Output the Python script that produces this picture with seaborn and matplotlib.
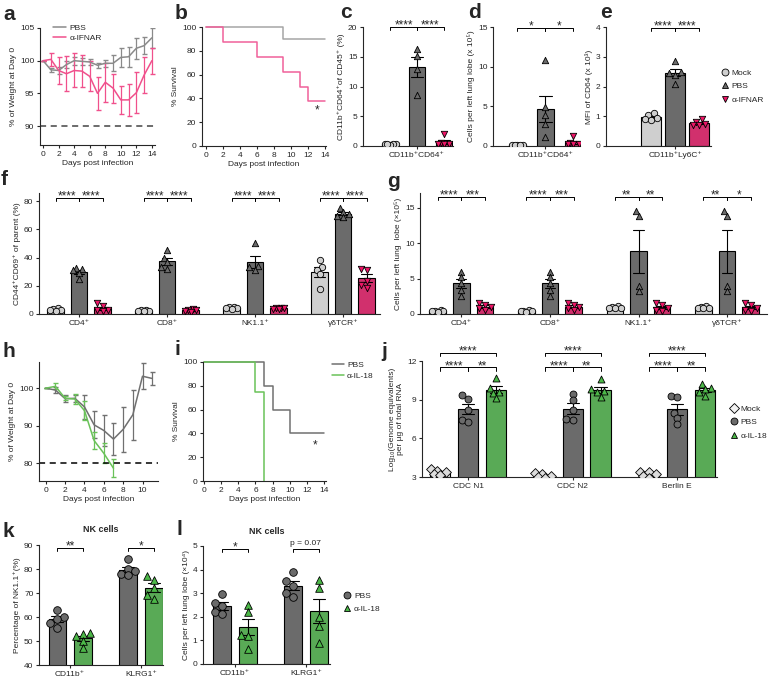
import warnings

import pandas as pd
import matplotlib
matplotlib.use("Agg")
import matplotlib.pyplot as plt
from matplotlib.lines import Line2D
import seaborn as sns

warnings.filterwarnings("ignore")

# ---------------- data ----------------
# a: weight curves, anti-IFNAR (mean, SEM by day)
a_days = list(range(15))
a_pbs_mean = [100.0, 98.6, 98.5, 99.4, 100.0, 99.9, 99.8, 99.3, 99.6, 99.6, 100.5, 100.6, 101.9, 102.3, 103.5]
a_pbs_sem = [0, 0.3, 0.5, 0.5, 0.6, 0.5, 0.5, 0.4, 0.5, 1.2, 1.5, 1.5, 1.6, 1.3, 1.5]
a_ifnar_mean = [100.0, 100.2, 98.5, 98.0, 98.5, 98.4, 97.6, 95.0, 96.7, 95.8, 94.0, 94.0, 95.1, 97.8, 100.0]
a_ifnar_sem = [0, 1.0, 2.0, 2.7, 2.6, 2.4, 2.3, 2.5, 3.0, 2.2, 2.2, 2.5, 3.1, 2.8, 2.0]

# b: survival, anti-IFNAR
b_pbs_days = [0, 9, 14]
b_pbs_surv = [100, 90, 90]
b_ifnar_days = [0, 2, 6, 9, 11, 12, 14]
b_ifnar_surv = [100, 87.5, 75, 62.5, 50, 37.5, 37.5]

# c, d, e: single population, three groups
c_mock = [0.3, 0.3, 0.35, 0.25, 0.3]
c_pbs = [16.3, 15.2, 12.9, 8.6]
c_ifnar = [2.1, 0.45, 0.4, 0.35, 0.35]
d_mock = [0.1, 0.1, 0.1, 0.1, 0.1]
d_pbs = [10.8, 4.9, 3.9, 2.8, 1.1]
d_ifnar = [1.2, 0.35, 0.3, 0.3, 0.25]
e_mock = [1.1, 1.05, 0.95, 0.9, 0.88]
e_pbs = [2.85, 2.5, 2.45, 2.4, 2.1]
e_ifnar = [0.9, 0.8, 0.75, 0.72, 0.7]

# f, g: lymphocyte subsets
cells_fg = ["CD4⁺", "CD8⁺", "NK1.1⁺", "γδTCR⁺"]
f_mock = [[4.0, 3.5, 3.0, 2.5, 2.0], [2.8, 2.5, 2.2, 2.0, 1.8], [5.2, 4.8, 4.5, 4.0, 3.8], [38, 33.5, 31, 28, 18]]
f_pbs = [[32.5, 31.5, 32.0, 29.0, 24.5], [45.0, 40.0, 37.0, 33.0, 32.0], [50.0, 34.0, 33.0, 31.0], [75, 72, 70.5, 69.5, 68.5]]
f_ifnar = [[7.5, 6.0, 3.0, 2.5, 2.0], [3.5, 3.0, 2.5, 2.0, 1.5], [4.5, 4.3, 4.0, 3.8, 3.5], [32.0, 31.5, 23.5, 20.5, 18.5]]
g_mock = [[0.5, 0.45, 0.4, 0.4, 0.35], [0.5, 0.45, 0.4, 0.4, 0.35], [1.1, 1.0, 0.9, 0.85, 0.8], [1.1, 1.0, 0.9, 0.85, 0.8]]
g_pbs = [[6.0, 5.2, 4.4, 3.4, 2.6], [6.0, 5.2, 4.4, 3.4, 2.6], [14.5, 13.8, 4.0, 3.2], [14.5, 13.8, 4.0, 3.2]]
g_ifnar = [[1.5, 1.3, 1.0, 0.8, 0.6], [1.5, 1.3, 1.0, 0.8, 0.6], [1.5, 1.3, 0.9, 0.5, 0.4], [1.5, 1.3, 0.9, 0.5, 0.4]]
f_sig = [["****", "****"], ["****", "****"], ["****", "****"], ["****", "****"]]
g_sig = [["****", "***"], ["****", "***"], ["**", "**"], ["**", "*"]]

# h: weight curves, anti-IL-18
h_pbs_days = list(range(12))
h_pbs_mean = [100, 99.5, 97.2, 97.3, 95.0, 90.2, 88.7, 86.4, 89.0, 92.9, 103.2, 102.6]
h_pbs_sem = [0, 0.7, 1.0, 1.0, 3.3, 3.6, 4.2, 4.2, 6.0, 6.7, 3.4, 1.7]
h_il18_days = list(range(8))
h_il18_mean = [100, 100.5, 97.3, 97.1, 94.0, 86.0, 82.6, 78.6]
h_il18_sem = [0, 0.8, 0.5, 1.3, 2.5, 2.2, 2.7, 2.4]

# i: survival, anti-IL-18
i_pbs_days = [0, 7, 8, 10, 14]
i_pbs_surv = [100, 80, 60, 40, 40]
i_il18_days = [0, 6, 7]
i_il18_surv = [100, 75, 0]

# j: viral RNA
targets_j = ["CDC N1", "CDC N2", "Berlin E"]
j_mock = [[3.65, 3.45, 3.35, 3.2, 3.15], [3.3, 3.2, 3.1, 3.0, 2.95], [3.4, 3.35, 3.2, 3.1, 2.95]]
j_pbs = [[9.4, 9.05, 8.2, 7.45, 7.3], [9.45, 9.0, 8.2, 7.5, 7.4], [9.3, 9.2, 8.0, 7.6, 7.1]]
j_il18 = [[10.7, 9.9, 9.6, 9.5, 9.1], [10.6, 9.8, 9.7, 9.6, 9.2], [10.2, 9.9, 9.8, 9.6, 9.3]]

# k, l: NK cells
cells_kl = ["CD11b⁺", "KLRG1⁺"]
k_pbs = [[63, 60, 59, 57.5, 55.5], [84, 80, 79, 78, 77.5]]
k_il18 = [[53.5, 53, 52, 50, 47], [77, 75.5, 72, 69, 67.5]]
l_pbs = [[2.95, 2.6, 2.45, 2.2, 2.1], [3.9, 3.5, 3.3, 3.0, 2.85]]
l_il18 = [[2.5, 2.2, 1.25, 1.2, 0.65], [3.55, 3.2, 2.0, 1.6, 0.9]]

# ---------------- style ----------------
MOCK = "#cfcfcf"
PBS = "#6b6b6b"
IFNAR = "#ec1566"
IL18 = "#4cb848"

sns.set_style("ticks")
plt.rcParams["font.family"] = ["Liberation Sans", "DejaVu Sans"]
plt.rcParams.update({
    "font.size": 6, "axes.linewidth": 0.8, "axes.labelsize": 6,
    "xtick.labelsize": 6, "ytick.labelsize": 6,
    "xtick.major.width": 0.8, "ytick.major.width": 0.8,
    "xtick.major.size": 2.5, "ytick.major.size": 2.5,
    "xtick.major.pad": 1.5, "ytick.major.pad": 1.5,
    "axes.labelpad": 2,
})

W, H = 771, 681
fig = plt.figure(figsize=(W / 100, H / 100), dpi=100)


def px_axes(l, t, r, b):
    ax = fig.add_axes([l / W, 1 - b / H, (r - l) / W, (b - t) / H])
    sns.despine(ax=ax)
    return ax


def letter(x, y, s):
    fig.text(x / W, 1 - y / H, s, fontsize=15, fontweight="bold", va="baseline", ha="left")


def slot(ci, hi, nh, width=0.8):
    return ci + (hi - (nh - 1) / 2) * width / nh


def swarm_x(center, vals, half, ppx, ppy, diam):
    # small deterministic beeswarm, points kept inside the bar
    step = diam * 0.45
    cands = [0.0]
    k = 1
    while k * step <= half * ppx + 1e-9:
        cands += [-k * step, k * step]
        k += 1
    placed = []
    out = [center] * len(vals)
    for i in sorted(range(len(vals)), key=lambda j: vals[j]):
        y = vals[i] * ppy
        best, best_d = 0.0, -1.0
        for dx in cands:
            d = min([((dx - px) ** 2 + (y - py) ** 2) ** 0.5 for px, py in placed], default=1e9)
            if d >= 0.8 * diam:
                best = dx
                break
            if d > best_d:
                best, best_d = dx, d
        placed.append((best, y))
        out[i] = center + best / ppx
    return out


def bar_panel(ax, cats, groups, values, palette, markers, xlim, ylim, width=0.8, gap=0.3, size=5):
    rows = []
    for grp, vals in zip(groups, values):
        for cat, pts in zip(cats, vals):
            for v in pts:
                rows.append((cat, grp, v))
    df = pd.DataFrame(rows, columns=["cat", "grp", "val"])
    sns.barplot(data=df, x="cat", y="val", hue="grp", order=cats, hue_order=groups,
                palette=palette, errorbar="se", capsize=0.35, width=width, gap=gap,
                err_kws={"linewidth": 0.8, "color": "black"},
                edgecolor="black", linewidth=0.8, legend=False, ax=ax)
    ax.set_xlim(xlim)
    ax.set_ylim(ylim)
    ppx = ax.bbox.width / (xlim[1] - xlim[0])
    ppy = ax.bbox.height / (ylim[1] - ylim[0])
    nh = len(groups)
    half = width / nh * (1 - gap) / 2
    for hi, (grp, vals, m) in enumerate(zip(groups, values, markers)):
        xs, ys = [], []
        for ci, pts in enumerate(vals):
            xs += swarm_x(slot(ci, hi, nh, width), pts, half, ppx, ppy, size * 100 / 72)
            ys += list(pts)
        sns.scatterplot(x=xs, y=ys, marker=m, s=size ** 2, color=palette[grp], edgecolor="black",
                        linewidth=0.6, legend=False, ax=ax, zorder=4)
    ax.set_xlim(xlim)
    ax.set_ylim(ylim)
    ax.set_xlabel("")


def sig(ax, x1, x2, y, text, tick):
    ax.plot([x1, x1, x2, x2], [y - tick, y, y, y - tick], color="black", lw=0.7, clip_on=False)
    if text.startswith("*"):
        ax.annotate(text, xy=((x1 + x2) / 2, y), xytext=(0, -1.2), textcoords="offset points",
                    ha="center", va="baseline", fontsize=8.5, annotation_clip=False)
    else:
        ax.annotate(text, xy=((x1 + x2) / 2, y), xytext=(0, 1), textcoords="offset points",
                    ha="center", va="bottom", fontsize=6, annotation_clip=False)


def marker_legend(ax, labels, markers, colors, anchor):
    handles = [Line2D([], [], ls="", marker=m, mfc=c, mec="black", mew=0.6, ms=5, label=lab)
               for lab, m, c in zip(labels, markers, colors)]
    ax.legend(handles=handles, loc="center left", bbox_to_anchor=anchor, frameon=False,
              fontsize=6, handlelength=1, handletextpad=0.3, labelspacing=0.7, borderpad=0)


# ---------------- a ----------------
ax = px_axes(40, 28, 155, 145)
ax.errorbar(a_days, a_pbs_mean, yerr=a_pbs_sem, color="#8a8a8a", lw=1.1, capsize=1.8, elinewidth=0.9)
ax.errorbar(a_days, a_ifnar_mean, yerr=a_ifnar_sem, color="#f0508c", lw=1.1, capsize=1.8, elinewidth=0.9)
ax.axhline(90, color="#444444", lw=1.1, ls=(0, (4, 3)))
ax.set_xlim(-0.4, 14.4)
ax.set_ylim(87.1, 105)
ax.set_xticks(range(0, 15, 2))
ax.set_yticks([90, 95, 100, 105])
ax.set_xlabel("Days post infection")
ax.set_ylabel("% of Weight at Day 0")
ax.legend([Line2D([], [], color="#8a8a8a", lw=1.1), Line2D([], [], color="#f0508c", lw=1.1)],
          ["PBS", "α-IFNAR"], loc="center left", bbox_to_anchor=(0.08, 0.955), frameon=False,
          fontsize=6, handlelength=1.5, handletextpad=0.4, labelspacing=0.3, borderpad=0)

# ---------------- b ----------------
ax = px_axes(202, 27, 326, 146)
ax.step(b_pbs_days, b_pbs_surv, where="post", color="#a5a5a5", lw=1.1, clip_on=False)
ax.step(b_ifnar_days, b_ifnar_surv, where="post", color="#f0609a", lw=1.1, clip_on=False)
ax.text(13, 30, "*", ha="center", va="center", fontsize=8.5)
ax.set_xlim(-0.47, 14.1)
ax.set_ylim(0, 100)
ax.set_xticks(range(0, 15, 2))
ax.set_yticks(range(0, 101, 20))
ax.set_xlabel("Days post infection")
ax.set_ylabel("% Survival")

# ---------------- c, d, e ----------------
grp3 = ["Mock", "PBS", "α-IFNAR"]
pal3 = {"Mock": MOCK, "PBS": PBS, "α-IFNAR": IFNAR}
mk3 = ["o", "^", "v"]

ax = px_axes(363, 27, 453, 146)
bar_panel(ax, ["CD11b⁺CD64⁺"], grp3, [[c_mock], [c_pbs], [c_ifnar]], pal3, mk3,
          (-0.54, 0.36), (0, 20), gap=0.4, size=4.6)
ax.set_yticks(range(0, 21, 5))
ax.set_ylabel("CD11b⁺CD64⁺of CD45⁺ (%)")
sig(ax, slot(0, 0, 3), slot(0, 1, 3), 20, "****", 0.5)
sig(ax, slot(0, 1, 3), slot(0, 2, 3), 20, "****", 0.5)

ax = px_axes(493, 27, 580, 146)
bar_panel(ax, ["CD11b⁺CD64⁺"], grp3, [[d_mock], [d_pbs], [d_ifnar]], pal3, mk3,
          (-0.5, 0.33), (0, 15), gap=0.4, size=4.6)
ax.set_yticks(range(0, 16, 5))
ax.set_ylabel("Cells per left lung lobe (x 10⁵)")
sig(ax, slot(0, 0, 3), slot(0, 1, 3), 14.9, "*", 0.4)
sig(ax, slot(0, 1, 3), slot(0, 2, 3), 14.9, "*", 0.4)

ax = px_axes(606, 27, 711, 146)
bar_panel(ax, ["CD11b⁺Ly6C⁺"], grp3, [[e_mock], [e_pbs], [e_ifnar]], pal3, mk3,
          (-0.77, 0.4), (0, 4), gap=0.15, size=4.6)
ax.set_yticks(range(0, 5))
ax.set_ylabel("MFI of CD64 (x 10³)")
sig(ax, slot(0, 0, 3), slot(0, 1, 3), 3.97, "****", 0.1)
sig(ax, slot(0, 1, 3), slot(0, 2, 3), 3.97, "****", 0.1)
marker_legend(ax, grp3, mk3, [MOCK, PBS, IFNAR], (1.05, 0.5))

# ---------------- f ----------------
ax = px_axes(39, 193, 380, 314)
bar_panel(ax, cells_fg, grp3, [f_mock, f_pbs, f_ifnar], pal3, mk3, (-0.455, 3.42), (0, 85.7), gap=0.3, size=4.6)
ax.set_yticks(range(0, 81, 20))
ax.set_ylabel("CD44⁺CD69⁺ of parent (%)")
for ci, (s1, s2) in enumerate(f_sig):
    sig(ax, slot(ci, 0, 3), slot(ci, 1, 3), 82, s1, 2.2)
    sig(ax, slot(ci, 1, 3), slot(ci, 2, 3), 82, s2, 2.2)

# ---------------- g ----------------
ax = px_axes(420, 193, 767, 314)
bar_panel(ax, cells_fg, grp3, [g_mock, g_pbs, g_ifnar], pal3, mk3, (-0.466, 3.45), (0, 17.1), gap=0.3, size=4.6)
ax.set_yticks(range(0, 16, 5))
ax.set_ylabel("Cells per left lung  lobe (×10⁵)")
for ci, (s1, s2) in enumerate(g_sig):
    sig(ax, slot(ci, 0, 3), slot(ci, 1, 3), 16.5, s1, 0.45)
    sig(ax, slot(ci, 1, 3), slot(ci, 2, 3), 16.5, s2, 0.45)

# ---------------- h ----------------
ax = px_axes(39, 362, 158, 481)
ax.errorbar(h_pbs_days, h_pbs_mean, yerr=h_pbs_sem, color="#707070", lw=1.1, capsize=1.8, elinewidth=0.9)
ax.errorbar(h_il18_days, h_il18_mean, yerr=h_il18_sem, color="#6ac259", lw=1.1, capsize=1.8, elinewidth=0.9)
ax.axhline(80, color="black", lw=1.1, ls=(0, (4, 3)))
ax.set_xlim(-0.7, 11.6)
ax.set_ylim(75.2, 107)
ax.set_xticks(range(0, 11, 2))
ax.set_yticks([80, 90, 100])
ax.set_xlabel("Days post infection")
ax.set_ylabel("% of Weight at Day 0")

# ---------------- i ----------------
ax = px_axes(203, 362, 326, 481)
ax.step(i_pbs_days, i_pbs_surv, where="post", color="#707070", lw=1.1, label="PBS", clip_on=False)
ax.step(i_il18_days, i_il18_surv, where="post", color="#6ac259", lw=1.1, label="α-IL-18", clip_on=False)
ax.text(13, 30, "*", ha="center", va="center", fontsize=8.5)
ax.set_xlim(-0.12, 14.23)
ax.set_ylim(0, 100)
ax.set_xticks(range(0, 15, 2))
ax.set_yticks(range(0, 101, 20))
ax.set_xlabel("Days post infection")
ax.set_ylabel("% Survival")
ax.legend(loc="center left", bbox_to_anchor=(1.015, 0.93), frameon=False, fontsize=6,
          handlelength=1.4, handletextpad=0.4, labelspacing=0.4, borderpad=0)

# ---------------- j ----------------
grpj = ["Mock", "PBS", "α-IL-18"]
palj = {"Mock": "#dcdcdc", "PBS": PBS, "α-IL-18": IL18}
mkj = ["D", "o", "^"]
ax = px_axes(422, 361, 717, 477)
bar_panel(ax, targets_j, grpj, [j_mock, j_pbs, j_il18], palj, mkj, (-0.44, 2.38), (3, 12), gap=0.28, size=5)
ax.set_yticks([3, 6, 9, 12])
ax.set_ylabel("Log₁₀(Genome equivalents)\nper µg of total RNA")
for ci in range(3):
    sig(ax, slot(ci, 0, 3), slot(ci, 1, 3), 11.5, "****", 0.25)
    sig(ax, slot(ci, 1, 3), slot(ci, 2, 3), 11.5, "**", 0.25)
    sig(ax, slot(ci, 0, 3), slot(ci, 2, 3), 12.64, "****", 0.25)
marker_legend(ax, grpj, mkj, ["#f2f2f2", PBS, IL18], (1.03, 0.47))

# ---------------- k ----------------
grp2 = ["PBS", "α-IL-18"]
pal2 = {"PBS": PBS, "α-IL-18": IL18}
ax = px_axes(39, 545, 163, 665)
bar_panel(ax, cells_kl, grp2, [k_pbs, k_il18], pal2, ["o", "^"], (-0.44, 1.31), (40, 90),
          width=0.73, gap=0.33, size=5.5)
ax.set_yticks(range(40, 91, 10))
ax.set_ylabel("Percentage of NK1.1⁺(%)")
ax.set_title("NK cells", fontsize=6.5, fontweight="bold", pad=9)
sig(ax, slot(0, 0, 2, 0.73), slot(0, 1, 2, 0.73), 88.8, "**", 1.3)
sig(ax, slot(1, 0, 2, 0.73), slot(1, 1, 2, 0.73), 88.8, "*", 1.3)

# ---------------- l ----------------
ax = px_axes(203, 546, 330, 664)
bar_panel(ax, cells_kl, grp2, [l_pbs, l_il18], pal2, ["o", "^"], (-0.45, 1.34), (0, 5),
          width=0.73, gap=0.33, size=5.5)
ax.set_yticks(range(0, 6))
ax.set_ylabel("Cells per left lung lobe (×10⁴)")
ax.set_title("NK cells", fontsize=6.5, fontweight="bold", pad=9)
sig(ax, slot(0, 0, 2, 0.73), slot(0, 1, 2, 0.73), 4.88, "*", 0.12)
sig(ax, slot(1, 0, 2, 0.73), slot(1, 1, 2, 0.73), 4.88, "p = 0.07", 0.12)
marker_legend(ax, grp2, ["o", "^"], [PBS, IL18], (1.07, 0.52))

# ---------------- panel letters ----------------
for x, y, s in [(3, 20, "a"), (175, 19, "b"), (340, 18, "c"), (468, 18, "d"), (600, 18, "e"),
                (1, 185, "f"), (387, 187, "g"), (3, 357, "h"), (175, 355, "i"), (381, 357, "j"),
                (3, 537, "k"), (176, 535, "l")]:
    letter(x, y, s)

fig.savefig("out.png", dpi=100)
